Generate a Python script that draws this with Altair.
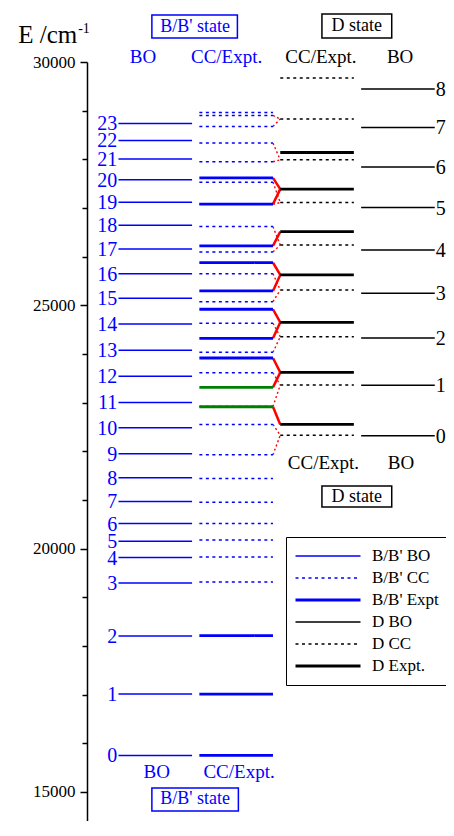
import altair as alt
import pandas as pd

# ---------------- data: term energies (cm^-1) ----------------
B_BO = [15747, 17008, 18202, 19292, 19815, 20150, 20514, 20967, 21453, 21947, 22481, 23004,
        23539, 24074, 24615, 25144, 25650, 26158, 26646, 27119, 27578, 28004, 28387, 28737]
B_CC = [19313, 19827, 20177, 20514, 20953, 21440, 21926, 22551, 22918, 23613, 24033, 24630,
        25074, 25650, 26097, 26617, 27078, 27531, 27949, 28333, 28675, 28901, 28963]
B_EXPT = [15747, 17008, 18210, 23916, 24321, 24918, 25294, 25877, 26220, 27078, 27619]
B_EXPT_GREEN = [22914, 23313]
D_BO = [22317, 23354, 24327, 25247, 26138, 27008, 27840, 28654, 29444]
D_CC = [22330, 23360, 24354, 25315, 26241, 27111, 27990, 28827, 29671]
D_EXPT = [22551, 23621, 24650, 25623, 26514, 27387, 28140]
B_LABELS = [str(v) for v in range(24)]
D_LABELS = [str(v) for v in range(9)]

# red links: B/B' level -> D level
SOLID_LINK_B = [22914, 23916, 23313, 24918, 24321, 25877, 25294, 26220, 27619, 27078]
SOLID_LINK_D = [22551, 23621, 23621, 24650, 24650, 25623, 25623, 26514, 27387, 27387]
DOT_LINK_B = [22551, 21926, 23613, 22918, 24630, 24033, 25650, 25074, 26617, 26097,
              27531, 27078, 28333, 27949, 28675, 28901]
DOT_LINK_D = [22330, 22330, 23360, 23360, 24354, 24354, 25315, 25315, 26241, 26241,
              27111, 27111, 27990, 27990, 28827, 28827]

SERIES = ["B/B' BO", "B/B' CC", "B/B' Expt", "D BO", "D CC", "D Expt."]

# ---------------- layout / style ----------------
FONT = "Liberation Serif"
BLUE = "#0000ff"
COL = {"B/B' BO": 0, "B/B' CC": 1, "B/B' Expt": 1, "D BO": 3, "D CC": 2, "D Expt.": 2}
LEN = 0.91
SX = 0.983  # horizontal squeeze so everything fits inside the page

rows = []
for s, vals in zip(SERIES, [B_BO, B_CC, B_EXPT, D_BO, D_CC, D_EXPT]):
    for v in vals:
        rows.append({"series": s, "x": COL[s], "x2": COL[s] + LEN, "E": v})
levels_df = pd.DataFrame(rows)
green_df = pd.DataFrame({"x": 1, "x2": 1 + LEN, "E": B_EXPT_GREEN})
solid_df = pd.DataFrame({"x": 1 + LEN, "x2": 2, "E": SOLID_LINK_B, "E2": SOLID_LINK_D})
dot_df = pd.DataFrame({"x": 1 + LEN, "x2": 2, "E": DOT_LINK_B, "E2": DOT_LINK_D})
blab_df = pd.DataFrame({"x": -0.015, "E": B_BO, "t": B_LABELS})
dlab_df = pd.DataFrame({"x": 3 + LEN + 0.012, "E": D_BO, "t": D_LABELS})

x_scale = alt.Scale(domain=[-0.389, 4.049], nice=False, zero=False)
y_scale = alt.Scale(domain=[14400, 30000], nice=False, zero=False)

yaxis = alt.Axis(
    values=list(range(15000, 30001, 1000)),
    labelExpr="datum.value % 5000 === 0 ? datum.label : ''",
    format="d", grid=False, title=None,
    tickSize={"condition": {"test": "datum.value % 5000 === 0", "value": 7}, "value": 5},
    tickColor="black", tickWidth=1.5, domainColor="black", domainWidth=1.5,
    labelFont=FONT, labelFontSize=17, labelColor="black", labelPadding=5,
)

leg = alt.Legend(
    title=None, orient="none", legendX=199, legendY=475,
    symbolType="stroke", symbolSize=4225, clipHeight=22, rowPadding=0,
    padding=8, strokeColor="black", fillColor="white",
    labelFont=FONT, labelFontSize=17, labelColor="black", labelOffset=10,
)

X = alt.X("x:Q", scale=x_scale, axis=None)

levels = alt.Chart(levels_df).mark_rule().encode(
    x=X, x2="x2:Q",
    y=alt.Y("E:Q", scale=y_scale, axis=yaxis),
    color=alt.Color("series:N", scale=alt.Scale(domain=SERIES,
                    range=[BLUE, BLUE, BLUE, "black", "black", "black"]), legend=leg),
    strokeDash=alt.StrokeDash("series:N", scale=alt.Scale(domain=SERIES,
                    range=[[1, 0], [3, 3.5], [1, 0], [1, 0], [3, 3.5], [1, 0]]), legend=leg),
    strokeWidth=alt.StrokeWidth("series:N", scale=alt.Scale(type="ordinal", domain=SERIES,
                    range=[1.5, 1.5, 2.8, 1.5, 1.5, 2.8]), legend=leg),
)

green = alt.Chart(green_df).mark_rule(color="#008000", strokeWidth=2.8).encode(
    x=X, x2="x2:Q", y=alt.Y("E:Q", scale=y_scale))
solid = alt.Chart(solid_df).mark_rule(color="#ff0000", strokeWidth=2.5).encode(
    x=X, x2="x2:Q", y=alt.Y("E:Q", scale=y_scale), y2="E2:Q")
dotted = alt.Chart(dot_df).mark_rule(color="#ff0000", strokeWidth=1.4, strokeDash=[2, 2.5]).encode(
    x=X, x2="x2:Q", y=alt.Y("E:Q", scale=y_scale), y2="E2:Q")

blab = alt.Chart(blab_df).mark_text(font=FONT, fontSize=20, color=BLUE, align="right",
                                    baseline="middle", dy=1).encode(
    x=X, y=alt.Y("E:Q", scale=y_scale), text="t:N")
dlab = alt.Chart(dlab_df).mark_text(font=FONT, fontSize=20, color="black", align="left",
                                    baseline="middle", dy=1).encode(
    x=X, y=alt.Y("E:Q", scale=y_scale), text="t:N")

ONE = pd.DataFrame({"k": [0]})


def label(txt, x, y, size, color, align="center", baseline="middle"):
    return alt.Chart(ONE).mark_text(text=txt, font=FONT, fontSize=size, color=color,
                                    align=align, baseline=baseline).encode(
        x=alt.value(x * SX), y=alt.value(y))


def box(x1, x2, y1, y2, color):
    return alt.Chart(ONE).mark_rect(fill="white", fillOpacity=0, stroke=color,
                                    strokeWidth=1.5).encode(
        x=alt.value(x1 * SX), x2=alt.value(x2 * SX), y=alt.value(y1), y2=alt.value(y2))


annotations = [
    label("E /cm", -70, -19, 25, "black", align="left", baseline="alphabetic"),
    label("-1", -9, -29, 14, "black", align="left", baseline="alphabetic"),
    box(66, 153, -47, -24, BLUE),
    label("B/B' state", 110, -35, 18, BLUE),
    box(239, 310, -48, -24, "black"),
    label("D state", 274.5, -36, 18, "black"),
    label("BO", 57, -5, 19, BLUE),
    label("CC/Expt.", 142, -5, 19, BLUE),
    label("CC/Expt.", 238, -5, 19, "black"),
    label("BO", 318.5, -5, 19, "black"),
    label("CC/Expt.", 240.5, 401, 19, "black"),
    label("BO", 319.5, 401, 19, "black"),
    box(239, 310, 424, 445, "black"),
    label("D state", 274.5, 435, 18, "black"),
    label("BO", 71, 710, 19, BLUE),
    label("CC/Expt.", 154.7, 710, 19, BLUE),
    box(66, 154, 726, 749, BLUE),
    label("B/B' state", 110, 737, 18, BLUE),
]

chart = alt.layer(dotted, solid, levels, green, blab, dlab, *annotations).properties(
    width=359, height=759,
    padding={"left": 79, "top": 54, "right": 0, "bottom": 0},
    autosize=alt.AutoSizeParams(type="none"),
    background="white",
).configure_view(strokeOpacity=0)

chart.save("out.html", embed_options={"renderer": "svg", "actions": False})
